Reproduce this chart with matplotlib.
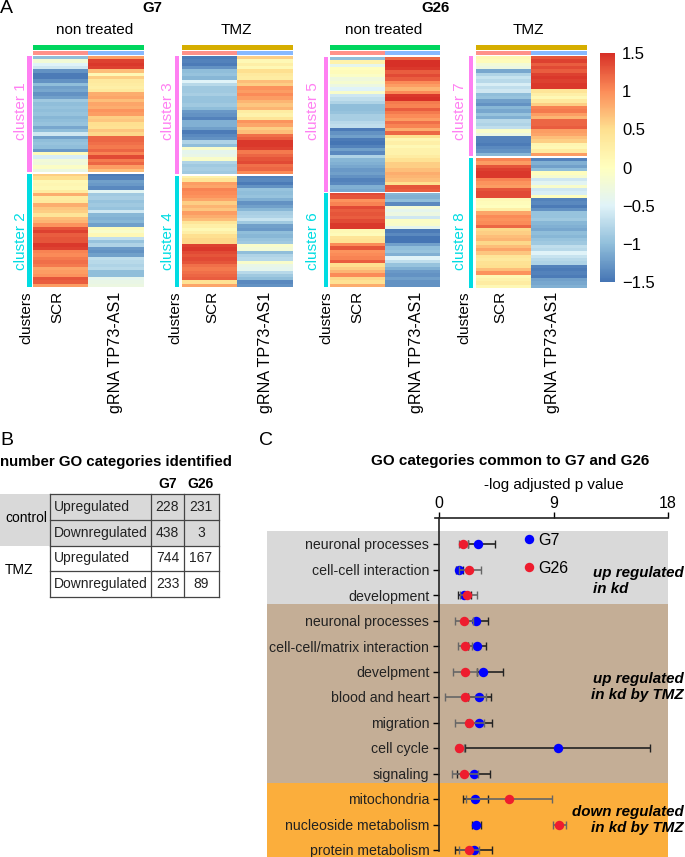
import numpy as np
import matplotlib
matplotlib.use("Agg")
import matplotlib.pyplot as plt
from matplotlib.colors import LinearSegmentedColormap
from matplotlib.lines import Line2D
from matplotlib.patches import Rectangle

plt.rcParams['font.family'] = ['Liberation Sans', 'DejaVu Sans']

W, H = 685, 857

# Heatmap rows, top to bottom, estimated from the colours
c1_scr = [-1.0,-0.2,-0.5,-0.6,-1.3,-1.45,-1.45,-1.3,-1.0,-1.2,-1.15,-1.3,-1.2,-0.9,-1.0,-0.95,-1.0,-0.95,-1.05,-1.0,-0.95,-1.15,-1.0,-0.6,-1.2,-1.0,-0.95,-1.0,-1.25,0.05,-0.55,-0.2,-0.25,-0.05,-0.3]
c1_kd = [0.9,1.4,1.45,1.4,0.7,0.1,0.6,0.35,0.3,0.25,0.35,0.8,0.85,0.7,0.85,0.8,0.95,0.9,0.6,0.65,0.5,0.45,0.65,0.55,1.2,1.2,1.15,1.1,1.2,1.05,1.35,1.1,1.2,0.9,0.7]
c2_scr = [0.6,0.5,0.1,0.15,0.1,0.3,0.8,0.3,0.35,0.8,0.65,0.6,0.4,0.7,0.75,0.95,1.3,1.4,1.25,1.3,1.3,1.45,1.4,1.05,1.0,1.1,1.15,1.1,0.85,0.9,0.95,1.3,1.25,0.9]
c2_kd = [-1.45,-1.4,-1.2,-1.25,-1.35,-0.45,-0.9,-0.85,-0.95,-0.9,-0.95,-0.6,-1.05,-1.1,-1.05,-1.2,0.05,-0.1,0.1,-0.7,-0.95,-0.8,-1.25,-1.3,-1.2,-0.7,-0.75,-0.8,-0.75,-1.0,-1.0,-0.4,-0.35,-0.3]
c3_scr = [-1.45,-1.4,-1.45,-1.3,-1.0,-0.95,-1.05,-0.5,-0.75,-0.9,-0.9,-0.85,-0.95,-0.95,-0.9,-1.0,-1.25,-1.3,-1.4,-1.1,-1.1,-1.2,-1.45,-1.35,-1.3,-0.8,-1.0,-0.1,-0.4,-0.35,-0.1,-0.8,-0.9,-0.85,-0.9]
c3_kd = [0.6,0.1,0.25,0.1,0.5,0.35,0.3,0.7,0.6,0.95,0.9,1.0,0.9,0.75,0.65,0.75,0.3,0.2,0.4,0.95,0.85,0.6,0.7,1.15,1.25,1.45,1.45,1.4,1.1,1.2,1.3,1.35,1.15,1.2,1.0]
c4_scr = [0.2,0.4,0.9,0.85,1.05,1.0,0.95,0.85,0.6,0.75,0.65,0.9,0.8,0.7,0.4,0.25,0.1,0.25,0.5,0.55,0.55,1.4,1.45,1.35,1.3,1.35,1.3,1.15,1.1,1.15,1.2,1.25,0.45,0.85]
c4_kd = [-1.4,-1.35,-1.45,-1.3,-0.95,-1.0,-0.95,-1.1,-1.3,-1.2,-1.05,-0.85,-0.8,-0.65,-0.9,-1.2,-1.25,-1.0,-1.05,-0.95,-0.9,-0.1,-0.2,-1.0,-0.8,-0.75,-0.1,-0.35,-0.4,-0.75,-0.9,-1.0,-1.35,-1.3]
c5_scr = [-1.0,0.2,-0.4,0.0,0.05,-0.05,-0.25,-0.15,-0.3,-0.5,-0.1,-0.6,-0.7,-0.8,-1.0,-1.0,-0.95,-0.85,-0.85,-0.75,-0.7,-1.45,-1.3,-1.2,-1.45,-1.5,-1.4,-1.2,-1.35,-0.8,-1.05,-1.1,-1.15,-1.25,-1.2,-1.3,-1.4,-1.35,-1.1,-1.15]
c5_kd = [1.2,1.5,1.5,1.45,1.25,1.35,1.25,1.0,0.9,0.75,1.0,1.45,1.5,1.1,1.05,1.25,1.1,1.0,0.9,1.15,1.05,0.8,1.2,0.5,0.15,0.25,0.1,0.2,0.2,0.3,0.45,0.6,0.6,0.7,0.8,0.75,0.7,0.5,1.3,1.25]
c6_scr = [1.35,1.3,0.95,1.05,1.35,1.25,1.3,1.25,1.35,1.45,1.45,0.1,0.05,0.4,0.45,1.0,1.3,0.95,1.0,1.05,1.25,0.5,0.6,0.75,1.0,0.55,0.45,0.8]
c6_kd = [-1.05,-1.1,-1.0,-1.35,-0.2,-0.4,-0.3,-0.6,-0.05,-0.1,-0.4,-1.45,-1.35,-1.5,-1.5,-1.2,-1.0,-0.95,-1.1,-0.5,-0.7,-0.95,-1.1,-1.25,-1.3,-1.2,-1.3,-1.3]
c7_scr = [0.1,0.05,-0.2,-0.3,-1.15,-0.8,-0.65,-0.75,-0.55,-0.7,-0.6,-1.0,-0.95,-1.2,-1.3,-1.05,-1.15,-0.95,-1.1,-0.75,-0.8,-0.7,-0.1,-0.3,-1.4,-1.4,-1.45,-1.35,-1.3,-1.05]
c7_kd = [1.3,1.4,1.25,1.35,1.25,1.4,1.45,1.4,1.45,1.45,0.4,0.25,0.1,0.35,0.6,1.05,1.1,0.9,0.75,1.2,1.2,1.25,0.9,0.85,0.7,0.6,0.15,0.1,0.3,0.9]
c8_scr = [1.05,0.9,1.3,1.4,1.45,1.45,1.05,0.95,0.9,1.3,1.35,1.35,0.1,0.05,0.0,0.25,0.85,1.0,0.95,1.0,1.2,0.55,0.6,0.7,0.75,0.55,0.7,0.85,0.65,0.4,0.35,0.45,0.5,0.7,0.95,0.1,0.2,0.3,0.1]
c8_kd = [-1.4,-1.1,-1.2,-1.0,0.0,-0.15,-0.6,-0.45,-0.1,-0.6,-0.55,0.0,-1.4,-1.35,-1.45,-1.3,-0.95,-0.95,-0.9,-1.05,-1.1,-1.15,-1.0,-1.05,-0.95,-0.9,-0.7,-0.75,-0.5,-0.65,-0.75,-0.8,-1.4,-1.45,-1.4,-1.45,-1.2,-1.15,-1.1]

cbar_ticks = [1.5, 1, 0.5, 0, -0.5, -1, -1.5]
cbar_labels = ['1.5', '1', '0.5', '0', '\u22120.5', '\u22121', '\u22121.5']

# Panel B
table_rows = ['Upregulated', 'Downregulated', 'Upregulated', 'Downregulated']
table_g7 = [228, 438, 744, 233]
table_g26 = [231, 3, 167, 89]

# Panel C
go_terms = ['neuronal processes', 'cell-cell interaction', 'development', 'neuronal processes',
            'cell-cell/matrix interaction', 'develpment', 'blood and heart', 'migration',
            'cell cycle', 'signaling', 'mitochondria', 'nucleoside metabolism', 'protein metabolism']
g7_val = [3.09, 1.6, 2.0, 2.88, 3.01, 3.49, 3.17, 3.17, 9.33, 2.73, 2.83, 2.91, 2.73]
g7_low = [2.3, 1.31, 1.52, 1.97, 2.3, 3.0, 2.3, 2.17, 2.04, 1.39, 1.86, 2.62, 1.23]
g7_high = [4.43, 1.89, 2.5, 3.85, 3.7, 5.06, 4.11, 4.19, 16.59, 4.04, 3.83, 3.3, 4.19]
g26_val = [1.89, 2.36, 2.17, 1.99, 2.07, 2.07, 2.07, 2.36, 1.6, 1.97, 5.48, 9.41, 2.36]
g26_low = [1.6, 1.6, 1.65, 1.23, 1.52, 1.13, 0.47, 1.23, 1.39, 1.02, 2.12, 8.94, 1.57]
g26_high = [2.3, 3.33, 2.96, 2.7, 2.62, 3.01, 3.7, 3.54, 1.97, 3.09, 8.88, 9.98, 3.17]

heat_cmap = LinearSegmentedColormap.from_list(
    'heat', ['#4575B4', '#91BFDB', '#E0F3F8', '#FFFFBF', '#FEE090', '#FC8D59', '#D73027'])

PINK = '#FF80F2'
CYAN = '#00DCE2'
SALMON = '#FF9189'
LIGHTBLUE = '#88B9FF'
GREEN = '#00D65E'
GOLD = '#D6AE00'
GREY_BG = '#D9D9D9'
DOT_SIZE = 6.8


def px_axes(x0, y0, x1, y1):
    # axes from pixel box of the picture, y counted from the top
    return fig.add_axes([x0 / W, 1 - y1 / H, (x1 - x0) / W, (y1 - y0) / H])


def heat_block(x0, x1, y0, y1, scr, kd):
    ax = px_axes(x0, y0, x1, y1)
    im = ax.imshow(np.column_stack([scr, kd]), aspect='auto', cmap=heat_cmap, vmin=-1.5, vmax=1.5,
                   interpolation='nearest')
    ax.axis('off')
    return im


fig = plt.figure(figsize=(W / 100, H / 100), dpi=100)

# Overlay in picture pixels for all the labels and the small table
page = fig.add_axes([0, 0, 1, 1])
page.set_xlim(0, W)
page.set_ylim(H, 0)
page.axis('off')


def box(x0, y0, x1, y1, color):
    page.add_patch(Rectangle((x0, y0), x1 - x0, y1 - y0, facecolor=color, edgecolor='none'))


# x0, x1, treatment colour, title, title x, cluster bar x, cluster label x, then rotated label x's, block y's
panels = [
    (33, 144, GREEN, 'non treated', 95, 27.5, 21, 26, 57, 116, (56, 172), (174, 287), 1, c1_scr, c1_kd, c2_scr, c2_kd),
    (182, 293, GOLD, 'TMZ', 236, 175, 168, 175.5, 212, 266, (56, 174), (176, 287), 3, c3_scr, c3_kd, c4_scr, c4_kd),
    (330, 440, GREEN, 'non treated', 384, 324, 313, 326.5, 357, 417, (57, 192), (193, 287), 5, c5_scr, c5_kd, c6_scr, c6_kd),
    (476, 587, GOLD, 'TMZ', 528, 469, 460, 464, 500, 553, (56, 156), (158, 288), 7, c7_scr, c7_kd, c8_scr, c8_kd),
]

for x0, x1, top_col, title, title_x, bar_x, lab_x, clu_x, scr_x, kd_x, y_a, y_b, num, a_scr, a_kd, b_scr, b_kd in panels:
    mid = (x0 + x1) / 2
    im = heat_block(x0, x1, y_a[0], y_a[1], a_scr, a_kd)
    heat_block(x0, x1, y_b[0], y_b[1], b_scr, b_kd)
    box(x0, 45, x1, 50, top_col)
    box(x0, 50.5, mid, 55, SALMON)
    box(mid, 50.5, x1, 55, LIGHTBLUE)
    box(bar_x, y_a[0], bar_x + 4.5, y_a[1], PINK)
    box(bar_x, y_b[0], bar_x + 4.5, y_b[1], CYAN)
    page.text(title_x, 30, title, fontsize=11, ha='center', va='center')
    page.text(lab_x, 111, 'cluster %d' % num, color=PINK, fontsize=11, rotation=90, ha='center', va='center')
    page.text(lab_x, 241, 'cluster %d' % (num + 1), color=CYAN, fontsize=11, rotation=90, ha='center', va='center')
    page.text(clu_x, 291, 'clusters', fontsize=11, rotation=90, ha='center', va='top')
    page.text(scr_x, 291, 'SCR', fontsize=11, rotation=90, ha='center', va='top')
    page.text(kd_x, 292, 'gRNA TP73-AS1', fontsize=11.6, rotation=90, ha='center', va='top')

page.text(0, 8, 'A', fontsize=14, ha='left', va='center')
page.text(152, 8, 'G7', fontsize=10.8, fontweight='bold', ha='center', va='center')
page.text(436, 8, 'G26', fontsize=10.8, fontweight='bold', ha='center', va='center')

# Colour bar
cax = px_axes(600, 53, 615, 282)
cbar = fig.colorbar(im, cax=cax)
cbar.set_ticks(cbar_ticks)
cbar.set_ticklabels(cbar_labels)
cbar.ax.tick_params(length=0, labelsize=12, pad=5)
cbar.outline.set_visible(False)

# Panel B: table
page.text(0, 440, 'B', fontsize=14, ha='left', va='center')
page.text(0, 462, 'number GO categories identified', fontsize=10.8, fontweight='bold', ha='left', va='center')
page.text(168, 484, 'G7', fontsize=10, fontweight='bold', ha='center', va='center')
page.text(201, 484, 'G26', fontsize=10, fontweight='bold', ha='center', va='center')
box(0, 494, 219, 545.7, GREY_BG)
page.text(5, 518.5, 'control', fontsize=10, ha='left', va='center')
page.text(5, 570, 'TMZ', fontsize=10, ha='left', va='center')

row_lines = [494, 519.7, 545.7, 571, 597]
for i in range(len(table_rows)):
    yc = (row_lines[i] + row_lines[i + 1]) / 2
    page.text(54, yc, table_rows[i], fontsize=10, ha='left', va='center', color='#222222')
    page.text(167.5, yc, str(table_g7[i]), fontsize=10, ha='center', va='center', color='#222222')
    page.text(201, yc, str(table_g26[i]), fontsize=10, ha='center', va='center', color='#222222')
for yl in row_lines:
    page.plot([50, 219], [yl, yl], color='#444444', lw=0.9)
for xl in [50, 151.5, 183.7, 219]:
    page.plot([xl, xl], [494, 597], color='#444444', lw=0.9)

# Panel C
page.text(266, 440, 'C', fontsize=14, ha='center', va='center')
page.text(510, 461, 'GO categories common to G7 and G26', fontsize=10.9, fontweight='bold', ha='center', va='center')
page.text(554, 485, '-log adjusted p value', fontsize=10.9, ha='center', va='center')

px_per_unit = (668 - 439) / 18
row_px = 25.5
dot = px_axes(267, 517.7, 668, 857)
dot.set_xlim(-(439 - 267) / px_per_unit, 18)
dot.set_ylim((857 - 544) / row_px, (517.7 - 544) / row_px)
dot.patch.set_visible(False)

dot.axhspan((531 - 544) / row_px, (604 - 544) / row_px, color=GREY_BG, lw=0, zorder=0)
dot.axhspan((604 - 544) / row_px, (783 - 544) / row_px, color='#C4AE96', lw=0, zorder=0)
dot.axhspan((783 - 544) / row_px, (857 - 544) / row_px, color='#FBAE3C', lw=0, zorder=0)

rows = np.arange(len(go_terms))
g7_val = np.array(g7_val)
g26_val = np.array(g26_val)
dot.errorbar(g7_val, rows, xerr=[g7_val - np.array(g7_low), np.array(g7_high) - g7_val], fmt='none',
             ecolor='#222222', elinewidth=1.2, capsize=3, capthick=1.0, zorder=2)
dot.plot(g7_val, rows, 'o', color='#0000FF', ms=DOT_SIZE, mew=0, zorder=3)
dot.errorbar(g26_val, rows, xerr=[g26_val - np.array(g26_low), np.array(g26_high) - g26_val], fmt='none',
             ecolor='#666666', elinewidth=1.2, capsize=3, capthick=1.0, zorder=4)
dot.plot(g26_val, rows, 'o', color='#EE1C2E', ms=DOT_SIZE, mew=0, zorder=5)

for name in ['right', 'bottom']:
    dot.spines[name].set_visible(False)
dot.spines['left'].set_position(('data', 0))
dot.spines['left'].set_bounds(rows[-1] + 0.05, (517.7 - 544) / row_px)
dot.spines['left'].set_linewidth(1.2)
dot.spines['left'].set_color('#222222')
dot.spines['top'].set_bounds(-0.35, 18)
dot.spines['top'].set_linewidth(1.2)
dot.spines['top'].set_color('#222222')
dot.xaxis.tick_top()
dot.set_xticks([0, 9, 18])
dot.tick_params(axis='x', length=4, width=1, pad=1, labelsize=11.5)
dot.set_yticks(rows)
dot.set_yticklabels(go_terms)
dot.tick_params(axis='y', length=4, width=1, pad=3, labelsize=10.2, labelcolor='#222222')

legend_handles = [Line2D([], [], marker='o', ls='none', color='#0000FF', ms=DOT_SIZE, mew=0, label='G7'),
                  Line2D([], [], marker='o', ls='none', color='#EE1C2E', ms=DOT_SIZE, mew=0, label='G26')]
fig.legend(handles=legend_handles, loc='upper left', bbox_to_anchor=(521 / W, 1 - 533 / H), frameon=False,
           fontsize=11.5, handlelength=1, handletextpad=0.05, labelspacing=0.8, borderpad=0, borderaxespad=0)

# Band labels drawn last so they sit over the panel axes
note = fig.add_axes([0, 0, 1, 1])
note.set_xlim(0, W)
note.set_ylim(H, 0)
note.axis('off')
note.patch.set_visible(False)
note.text(593, 581, 'up regulated\nin kd', fontsize=10.9, fontweight='bold', fontstyle='italic', ha='left', va='center', linespacing=1.2)
note.text(684, 687, 'up regulated\nin kd by TMZ', fontsize=10.9, fontweight='bold', fontstyle='italic', ha='right', va='center', linespacing=1.2)
note.text(684, 820, 'down regulated\nin kd by TMZ', fontsize=10.9, fontweight='bold', fontstyle='italic', ha='right', va='center', linespacing=1.2)

fig.savefig('out.png', dpi=100)
